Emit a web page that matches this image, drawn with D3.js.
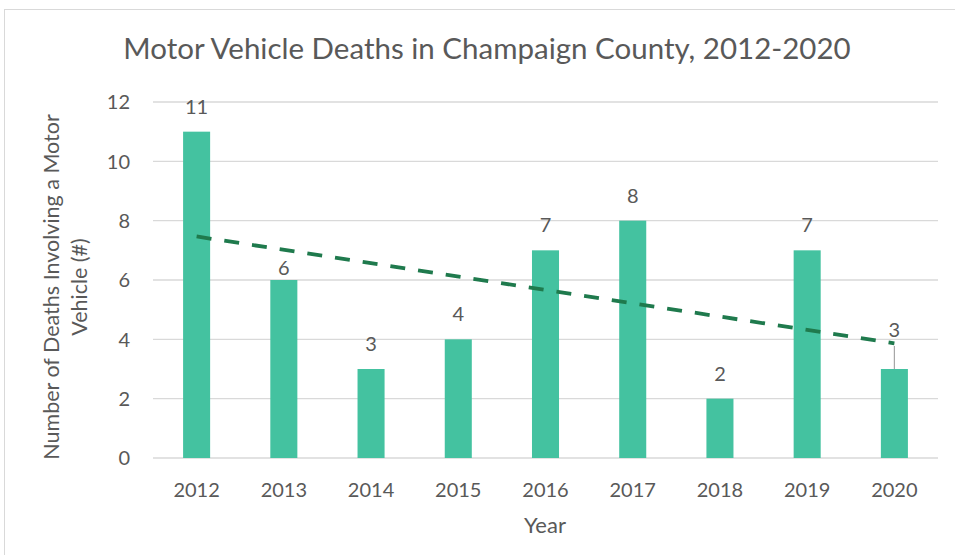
<!DOCTYPE html>
<html>
<head>
<meta charset="utf-8">
<script src="https://cdn.jsdelivr.net/npm/d3@7"></script>
<style>
  body { margin: 0; background: #fff; }
  text { font-family: Lato, "Open Sans", sans-serif; fill: #595959; }
</style>
</head>
<body>
<svg id="chart" width="955" height="555"></svg>
<script>
// chart data
const years = ["2012", "2013", "2014", "2015", "2016", "2017", "2018", "2019", "2020"];
const deaths = [11, 6, 3, 4, 7, 8, 2, 7, 3];
const yTicks = [0, 2, 4, 6, 8, 10, 12];

const svg = d3.select("#chart");
const margin = {left: 153, right: 17, top: 102, bottom: 97};
const width = 955, height = 555;

// outer border like the spreadsheet chart frame
svg.append("rect")
    .attr("x", 4.5).attr("y", 9.5)
    .attr("width", 960).attr("height", 560)
    .attr("fill", "none")
    .attr("stroke", "#d9d9d9");

var x = d3.scaleBand()
    .domain(years)
    .range([margin.left, width - margin.right])
    .paddingInner(0.69)
    .paddingOuter(0.345);

var y = d3.scaleLinear()
    .domain([0, 12])
    .range([height - margin.bottom, margin.top]);

// gridlines
svg.append("g")
    .selectAll("line")
    .data(yTicks)
    .enter().append("line")
    .attr("x1", margin.left)
    .attr("x2", width - margin.right)
    .attr("y1", d => y(d))
    .attr("y2", d => y(d))
    .attr("stroke", "#d9d9d9")
    .attr("stroke-width", 1.3);

// y tick labels
svg.append("g")
    .selectAll("text")
    .data(yTicks)
    .enter().append("text")
    .attr("x", 130)
    .attr("y", d => y(d))
    .attr("dy", "0.36em")
    .attr("text-anchor", "end")
    .style("font-size", "20px")
    .text(d => d);

// x tick labels
svg.append("g")
    .selectAll("text")
    .data(years)
    .enter().append("text")
    .attr("x", d => x(d) + x.bandwidth() / 2)
    .attr("y", 497)
    .attr("text-anchor", "middle")
    .style("font-size", "20px")
    .text(d => d);

// bars
svg.append("g")
    .selectAll("rect")
    .data(deaths)
    .enter().append("rect")
    .attr("x", (d, i) => x(years[i]))
    .attr("y", d => y(d))
    .attr("width", x.bandwidth())
    .attr("height", d => y(0) - y(d))
    .attr("fill", "#44c2a0");

// linear trendline (least squares over the bars)
var n = deaths.length;
var mx = d3.mean(deaths, (d, i) => i);
var my = d3.mean(deaths);
var slope = d3.sum(deaths, (d, i) => (i - mx) * (d - my)) / d3.sum(deaths, (d, i) => (i - mx) * (i - mx));
var icpt = my - slope * mx;
var cx = i => x(years[i]) + x.bandwidth() / 2;

svg.append("line")
    .attr("x1", cx(0))
    .attr("y1", y(icpt))
    .attr("x2", cx(n - 1))
    .attr("y2", y(icpt + slope * (n - 1)))
    .attr("stroke", "#1f7a4d")
    .attr("stroke-width", 3.8)
    .attr("stroke-dasharray", "15,13");

// data labels; 2013 sits low under the trendline, the last one is lifted with a leader
function labelY(d, i) {
    if (i === n - 1) return y(d) - 32;
    if (i === 1) return y(d) - 5;
    return y(d) - 18;
}

svg.append("g")
    .selectAll("text")
    .data(deaths)
    .enter().append("text")
    .attr("x", (d, i) => cx(i))
    .attr("y", labelY)
    .attr("text-anchor", "middle")
    .style("font-size", "20px")
    .text(d => d);

svg.append("line")
    .attr("x1", cx(n - 1)).attr("x2", cx(n - 1))
    .attr("y1", y(deaths[n - 1]) - 23)
    .attr("y2", y(deaths[n - 1]))
    .attr("stroke", "#a6a6a6")
    .attr("stroke-width", 1.2);

// titles
svg.append("text")
    .attr("x", 487)
    .attr("y", 59)
    .attr("text-anchor", "middle")
    .style("font-size", "29.5px")
    .text("Motor Vehicle Deaths in Champaign County, 2012-2020");

svg.append("text")
    .attr("x", 545)
    .attr("y", 533)
    .attr("text-anchor", "middle")
    .style("font-size", "22px")
    .text("Year");

var yTitle = svg.append("text")
    .attr("transform", "translate(59,287) rotate(-90)")
    .attr("text-anchor", "middle")
    .style("font-size", "21.5px");
yTitle.append("tspan").attr("x", 0).attr("y", 0).text("Number of Deaths Involving a Motor");
yTitle.append("tspan").attr("x", 0).attr("y", 28).text("Vehicle (#)");
</script>
</body>
</html>
